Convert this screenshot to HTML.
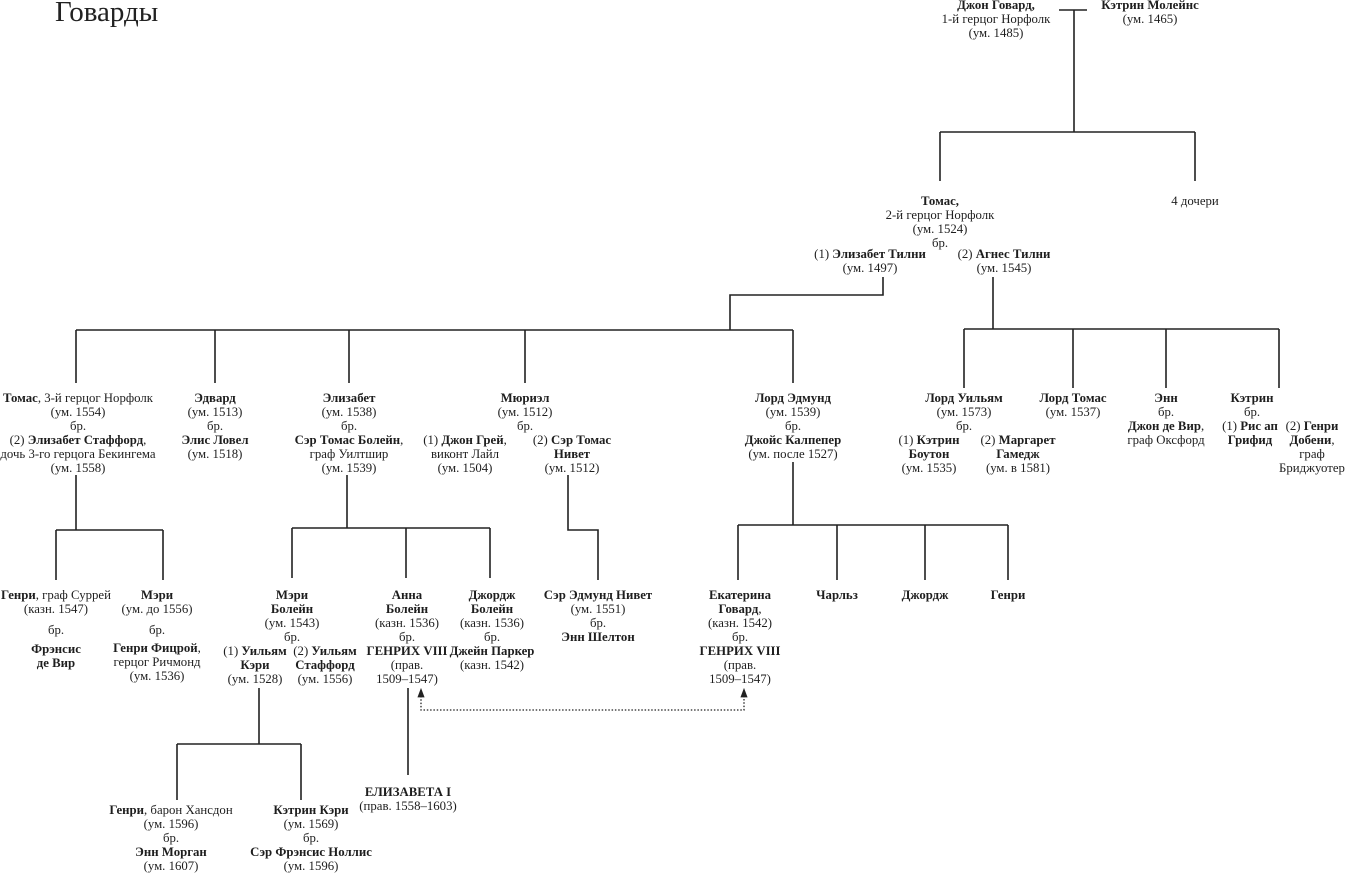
<!DOCTYPE html>
<html><head><meta charset="utf-8"><style>
body{margin:0;width:1360px;height:875px;background:#fff;position:relative;overflow:hidden;font-family:"Liberation Serif","DejaVu Serif",serif;color:#1e1e1e}
.n{position:absolute;transform:translateX(-50%);white-space:nowrap;text-align:center;font-size:12.8px;line-height:14px}
b{font-weight:bold}
svg{position:absolute;left:0;top:0}
</style></head><body>
<div style="position:absolute;left:55px;top:-4px;font-size:29px;font-family:'Liberation Serif',serif;color:#222">Говарды</div>
<svg width="1360" height="875" stroke="#222" stroke-width="1.6" fill="none">
<path d="M1059 10H1087M1074 10V132M940 132H1195M940 132V181M1195 132V181"/>
<path d="M883 277V295H730V330M76 330H793M76 330V383M215 330V383M349 330V383M525 330V383M793 330V383"/>
<path d="M993 277V329M964 329H1279M964 329V388M1073 329V388M1166 329V388M1279 329V388"/>
<path d="M76 475V530M56 530H163M56 530V580M163 530V580"/>
<path d="M347 475V528M292 528H490M292 528V578M406 528V578M490 528V578"/>
<path d="M568 475V530H598V580"/>
<path d="M793 462V525M738 525H1008M738 525V580M837 525V580M925 525V580M1008 525V580"/>
<path d="M259 688V744M177 744H301M177 744V800M301 744V800M408 688V775"/>
<path d="M421 696V710H744V696" stroke-dasharray="1.5 1.8" stroke-width="1.3"/>
<path d="M418 697L421 689L424 697ZM741 697L744 689L747 697Z" fill="#222" stroke-width="0.8"/>
</svg>

<div class="n" style="left:996px;top:-2px"><b>Джон Говард,</b><br>1-й герцог Норфолк<br>(ум. 1485)</div>
<div class="n" style="left:1150px;top:-2px"><b>Кэтрин Молейнс</b><br>(ум. 1465)</div>
<div class="n" style="left:940px;top:194px"><b>Томас,</b><br>2-й герцог Норфолк<br>(ум. 1524)<br>бр.</div>
<div class="n" style="left:1195px;top:194px">4 дочери</div>
<div class="n" style="left:870px;top:247px">(1) <b>Элизабет Тилни</b><br>(ум. 1497)</div>
<div class="n" style="left:1004px;top:247px">(2) <b>Агнес Тилни</b><br>(ум. 1545)</div>

<div class="n" style="left:78px;top:391px"><b>Томас</b>, 3-й герцог Норфолк<br>(ум. 1554)<br>бр.<br>(2) <b>Элизабет Стаффорд</b>,<br>дочь 3-го герцога Бекингема<br>(ум. 1558)</div>
<div class="n" style="left:215px;top:391px"><b>Эдвард</b><br>(ум. 1513)<br>бр.<br><b>Элис Ловел</b><br>(ум. 1518)</div>
<div class="n" style="left:349px;top:391px"><b>Элизабет</b><br>(ум. 1538)<br>бр.<br><b>Сэр Томас Болейн</b>,<br>граф Уилтшир<br>(ум. 1539)</div>
<div class="n" style="left:525px;top:391px"><b>Мюриэл</b><br>(ум. 1512)<br>бр.</div>
<div class="n" style="left:465px;top:433px">(1) <b>Джон Грей</b>,<br>виконт Лайл<br>(ум. 1504)</div>
<div class="n" style="left:572px;top:433px">(2) <b>Сэр Томас<br>Нивет</b><br>(ум. 1512)</div>
<div class="n" style="left:793px;top:391px"><b>Лорд Эдмунд</b><br>(ум. 1539)<br>бр.<br><b>Джойс Калпепер</b><br>(ум. после 1527)</div>
<div class="n" style="left:964px;top:391px"><b>Лорд Уильям</b><br>(ум. 1573)<br>бр.</div>
<div class="n" style="left:929px;top:433px">(1) <b>Кэтрин<br>Боутон</b><br>(ум. 1535)</div>
<div class="n" style="left:1018px;top:433px">(2) <b>Маргарет<br>Гамедж</b><br>(ум. в 1581)</div>
<div class="n" style="left:1073px;top:391px"><b>Лорд Томас</b><br>(ум. 1537)</div>
<div class="n" style="left:1166px;top:391px"><b>Энн</b><br>бр.<br><b>Джон де Вир</b>,<br>граф Оксфорд</div>
<div class="n" style="left:1252px;top:391px"><b>Кэтрин</b><br>бр.</div>
<div class="n" style="left:1250px;top:419px">(1) <b>Рис ап<br>Грифид</b></div>
<div class="n" style="left:1312px;top:419px">(2) <b>Генри<br>Добени</b>,<br>граф<br>Бриджуотер</div>

<div class="n" style="left:56px;top:588px"><b>Генри</b>, граф Суррей<br>(казн. 1547)</div>
<div class="n" style="left:56px;top:623px">бр.</div>
<div class="n" style="left:56px;top:642px"><b>Фрэнсис<br>де Вир</b></div>
<div class="n" style="left:157px;top:588px"><b>Мэри</b><br>(ум. до 1556)</div>
<div class="n" style="left:157px;top:623px">бр.</div>
<div class="n" style="left:157px;top:641px"><b>Генри Фицрой</b>,<br>герцог Ричмонд<br>(ум. 1536)</div>
<div class="n" style="left:292px;top:588px"><b>Мэри<br>Болейн</b><br>(ум. 1543)<br>бр.</div>
<div class="n" style="left:255px;top:644px">(1) <b>Уильям<br>Кэри</b><br>(ум. 1528)</div>
<div class="n" style="left:325px;top:644px">(2) <b>Уильям<br>Стаффорд</b><br>(ум. 1556)</div>
<div class="n" style="left:407px;top:588px"><b>Анна<br>Болейн</b><br>(казн. 1536)<br>бр.<br><b>ГЕНРИХ VIII</b><br>(прав.<br>1509–1547)</div>
<div class="n" style="left:492px;top:588px"><b>Джордж<br>Болейн</b><br>(казн. 1536)<br>бр.<br><b>Джейн Паркер</b><br>(казн. 1542)</div>
<div class="n" style="left:598px;top:588px"><b>Сэр Эдмунд Нивет</b><br>(ум. 1551)<br>бр.<br><b>Энн Шелтон</b></div>
<div class="n" style="left:740px;top:588px"><b>Екатерина<br>Говард</b>,<br>(казн. 1542)<br>бр.<br><b>ГЕНРИХ VIII</b><br>(прав.<br>1509–1547)</div>
<div class="n" style="left:837px;top:588px"><b>Чарльз</b></div>
<div class="n" style="left:925px;top:588px"><b>Джордж</b></div>
<div class="n" style="left:1008px;top:588px"><b>Генри</b></div>

<div class="n" style="left:171px;top:803px"><b>Генри</b>, барон Хансдон<br>(ум. 1596)<br>бр.<br><b>Энн Морган</b><br>(ум. 1607)</div>
<div class="n" style="left:311px;top:803px"><b>Кэтрин Кэри</b><br>(ум. 1569)<br>бр.<br><b>Сэр Фрэнсис Ноллис</b><br>(ум. 1596)</div>
<div class="n" style="left:408px;top:785px"><b>ЕЛИЗАВЕТА I</b><br>(прав. 1558–1603)</div>
</body></html>
